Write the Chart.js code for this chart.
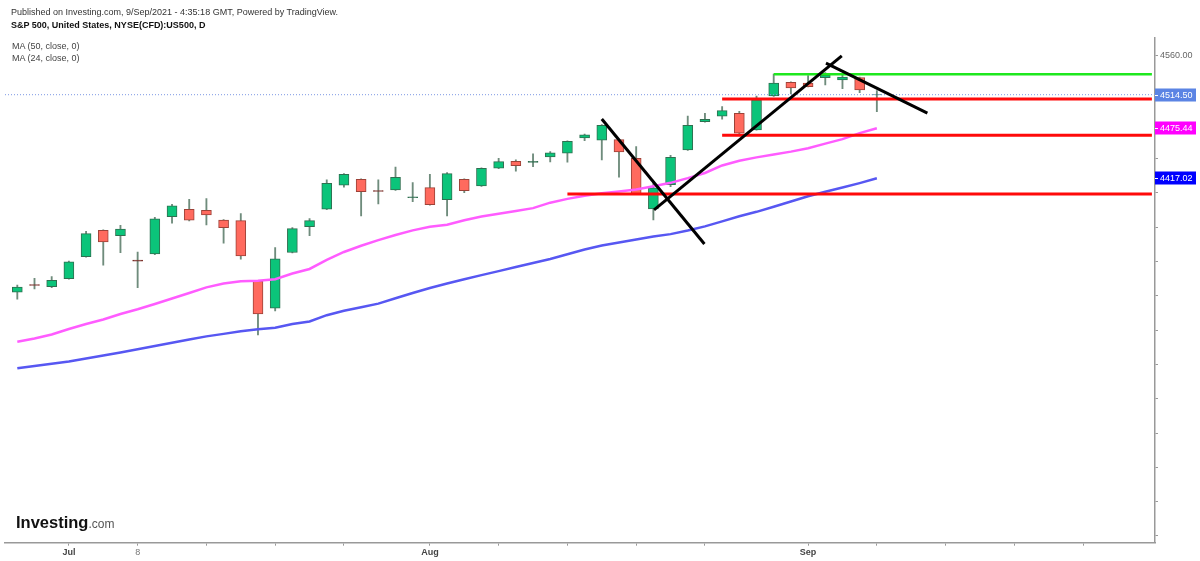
<!DOCTYPE html>
<html>
<head>
    <meta charset="UTF-8">
    <title>S&amp;P 500 Daily</title>
    <script src="https://cdn.jsdelivr.net/npm/chart.js"></script>
    <style>
        body { margin: 0; background: #fff; font-family: Arial, "Liberation Sans", sans-serif; }
        #wrap { position: relative; width: 1200px; height: 561px; overflow: hidden; }
        #chart { position: absolute; left: 0; top: 0; }
        .txt { position: absolute; left: 11px; white-space: nowrap; font-size: 9px; line-height: 10px; color: #333; }
        .title { font-weight: bold; color: #111; }
        .ma { left: 12px; color: #444; }
        .logo { position: absolute; left: 16px; top: 514px; line-height: 16px; white-space: nowrap; }
        .logo b { font-size: 16.5px; color: #111; }
        .logo span { font-size: 12px; color: #555; }
    </style>
</head>
<body>
<div id="wrap">
    <canvas id="chart" width="1200" height="561"></canvas>
    <div class="txt" style="top:7px">Published on Investing.com, 9/Sep/2021 - 4:35:18 GMT, Powered by TradingView.</div>
    <div class="txt title" style="top:20px">S&amp;P 500, United States, NYSE(CFD):US500, D</div>
    <div class="txt ma" style="top:41px">MA (50, close, 0)</div>
    <div class="txt ma" style="top:53px">MA (24, close, 0)</div>
    <div class="logo"><b>Investing</b><span>.com</span></div>
</div>
<script>
    // 日K数据（7月初 - 9月8日）
    const opens = [4284.1, 4293.2, 4290.7, 4300.0, 4325.6, 4356.4, 4350.1, 4321.6, 4328.8, 4372.3,
        4380.9, 4379.8, 4368.4, 4367.6, 4297.3, 4265.5, 4330.5, 4360.6, 4380.9, 4408.9,
        4415.9, 4402.8, 4403.4, 4394.3, 4406.1, 4392.1, 4415.9, 4408.1, 4428.7, 4436.9,
        4435.5, 4441.9, 4446.2, 4464.1, 4461.4, 4462.1, 4440.4, 4381.3, 4409.6, 4450.1,
        4483.1, 4489.4, 4492.9, 4473.4, 4513.0, 4529.0, 4527.9, 4534.4, 4531.7, 4534.4, 4514.3];
    const highs = [4292.6, 4300.4, 4302.3, 4320.6, 4355.3, 4357.0, 4362.3, 4331.1, 4371.6, 4386.7,
        4392.6, 4393.3, 4369.0, 4375.8, 4298.0, 4336.1, 4359.5, 4369.9, 4415.1, 4422.5,
        4416.5, 4415.1, 4430.2, 4411.9, 4421.7, 4423.6, 4416.5, 4429.3, 4440.4, 4438.4,
        4445.4, 4448.1, 4460.8, 4468.7, 4479.5, 4462.7, 4453.9, 4413.1, 4443.9, 4489.7,
        4492.9, 4500.6, 4495.2, 4513.0, 4538.4, 4529.5, 4536.7, 4540.2, 4538.7, 4535.0, 4519.2];
    const lows = [4276.0, 4288.0, 4289.5, 4299.5, 4325.0, 4315.6, 4330.3, 4289.5, 4328.0, 4364.6,
        4367.3, 4362.6, 4341.3, 4322.6, 4234.3, 4262.3, 4330.0, 4350.1, 4380.5, 4406.6,
        4373.1, 4387.1, 4403.0, 4389.8, 4385.6, 4373.1, 4400.3, 4407.5, 4428.2, 4425.2,
        4430.6, 4436.1, 4435.7, 4460.9, 4438.4, 4418.2, 4398.0, 4368.4, 4407.3, 4449.5,
        4482.5, 4485.9, 4469.0, 4473.0, 4512.5, 4515.4, 4523.5, 4525.9, 4521.6, 4516.9, 4494.7];
    const closes = [4290.3, 4292.0, 4298.1, 4319.5, 4352.5, 4342.8, 4357.9, 4320.4, 4369.6, 4384.8,
        4368.1, 4374.3, 4359.5, 4326.5, 4258.8, 4323.0, 4358.3, 4367.6, 4411.2, 4421.7,
        4401.4, 4401.7, 4418.2, 4395.5, 4386.3, 4422.4, 4402.6, 4428.7, 4436.4, 4431.8,
        4436.7, 4446.6, 4460.2, 4467.6, 4478.9, 4447.7, 4398.8, 4405.8, 4441.6, 4478.9,
        4485.9, 4495.9, 4469.5, 4508.4, 4527.9, 4522.4, 4523.9, 4537.5, 4534.9, 4520.0, 4514.5];

    // 均线 MA24 / MA50
    const ma24 = [4226.5, 4230.2, 4234.9, 4241.3, 4247.1, 4252.4, 4258.8, 4264.3, 4270.5, 4276.9,
        4283.3, 4289.8, 4294.4, 4296.9, 4297.5, 4299.4, 4306.0, 4311.3, 4321.8, 4331.1,
        4338.4, 4344.9, 4350.9, 4356.3, 4360.6, 4362.8, 4368.0, 4372.5, 4375.7, 4378.9,
        4382.2, 4388.6, 4393.0, 4396.7, 4399.7, 4401.7, 4403.9, 4407.7, 4411.7, 4417.2,
        4423.2, 4432.0, 4437.5, 4441.4, 4444.7, 4448.1, 4452.1, 4457.4, 4462.7, 4469.7, 4475.44];
    const ma50 = [4195.4, 4198.2, 4200.7, 4203.5, 4207.0, 4210.5, 4214.0, 4217.6, 4221.5, 4225.2,
        4229.1, 4232.7, 4235.6, 4238.6, 4241.0, 4242.8, 4247.0, 4250.1, 4257.4, 4262.5,
        4266.7, 4270.9, 4277.1, 4283.3, 4289.1, 4294.4, 4299.3, 4304.1, 4308.8, 4313.6,
        4318.3, 4323.0, 4328.4, 4333.9, 4338.6, 4342.1, 4345.7, 4349.2, 4351.9, 4356.1,
        4360.9, 4366.8, 4372.8, 4377.9, 4383.9, 4390.0, 4396.1, 4401.4, 4406.2, 4411.4, 4417.02];

    // x 轴刻度（K线序号）和文字
    const tickIndex = [3, 7, 11, 15, 19, 24, 28, 32, 36, 40, 46, 50, 54, 58, 62];
    const tickText = ['Jul', '8', '', '', '', 'Aug', '', '', '', '', 'Sep', '', '', '', ''];
    // y 轴刻度
    const priceTicks = [4000, 4040, 4080, 4120, 4160, 4200, 4240, 4280, 4320, 4360, 4400, 4440, 4480, 4520, 4560];

    // 水平支撑/阻力线
    const levelPrice = [4538.3, 4509.5, 4467.2, 4398.7];
    const levelStart = [44.0, 41.0, 41.0, 32.0];
    const levelEnd = [66.0, 66.0, 66.0, 66.0];
    // 趋势线 [序号, 价格]
    const trendFrom = [[34.0, 4486.2], [37.04, 4380.1], [47.04, 4551.2]];
    const trendTo = [[39.97, 4340.4], [47.96, 4559.7], [52.94, 4492.9]];

    // 右侧价格标签
    const lastPrice = 4514.50;
    const tagValues = [4514.50, 4475.44, 4417.02];

    const xMin = -0.716, xMax = 66.18;
    const yMin = 3992.1, yMax = 4580.6;

    const idx = closes.map((c, i) => i);
    const up = idx.map(i => closes[i] >= opens[i]);
    // 十字星（实体很小）用深色
    const doji = idx.map(i => Math.abs(closes[i] - opens[i]) < 1.5);

    const datasets = [];

    // 上下影线
    datasets.push({
        type: 'bar',
        data: idx.map(i => ({x: i, y: [lows[i], highs[i]]})),
        backgroundColor: '#6f8c7c',
        borderWidth: 0,
        barThickness: 1.2,
        grouped: false,
        order: 6
    });
    // 实体
    datasets.push({
        type: 'bar',
        data: idx.map(i => ({x: i, y: [opens[i], closes[i]]})),
        backgroundColor: idx.map(i => doji[i] ? (up[i] ? '#2f6f50' : '#7a2f28') : (up[i] ? '#0bc47a' : '#ff6a5e')),
        borderColor: idx.map(i => up[i] ? '#2f6f50' : (doji[i] ? '#7a2f28' : '#9c4238')),
        borderWidth: 1,
        borderSkipped: false,
        barThickness: 10,
        grouped: false,
        order: 5
    });
    // 均线
    datasets.push({
        type: 'line',
        data: ma50.map((v, i) => ({x: i, y: v})),
        borderColor: '#5757f2',
        borderWidth: 2.5,
        pointRadius: 0,
        order: 4
    });
    datasets.push({
        type: 'line',
        data: ma24.map((v, i) => ({x: i, y: v})),
        borderColor: '#ff5cff',
        borderWidth: 2.5,
        pointRadius: 0,
        order: 4
    });
    // 最新价虚线
    datasets.push({
        type: 'line',
        data: [{x: xMin, y: lastPrice}, {x: xMax, y: lastPrice}],
        borderColor: '#7d98e4',
        borderWidth: 1,
        borderDash: [1, 2],
        pointRadius: 0,
        order: 3
    });
    // 水平线
    levelPrice.forEach((p, k) => {
        datasets.push({
            type: 'line',
            data: [{x: levelStart[k], y: p}, {x: levelEnd[k], y: p}],
            borderColor: k === 0 ? '#1ee81e' : '#ff0a0a',
            borderWidth: k === 0 ? 2.5 : 3,
            pointRadius: 0,
            order: 2
        });
    });
    // 趋势线
    trendFrom.forEach((a, k) => {
        datasets.push({
            type: 'line',
            data: [{x: a[0], y: a[1]}, {x: trendTo[k][0], y: trendTo[k][1]}],
            borderColor: '#000',
            borderWidth: 3,
            pointRadius: 0,
            order: 1
        });
    });

    const tagColors = ['#5b84e4', '#ff00ff', '#0000ff'];
    const priceTags = {
        id: 'priceTags',
        afterDraw(chart) {
            const ctx = chart.ctx;
            const yScale = chart.scales.y;
            const right = chart.chartArea.right;
            ctx.save();
            tagValues.forEach((v, k) => {
                const py = Math.round(yScale.getPixelForValue(v));
                ctx.fillStyle = tagColors[k];
                ctx.fillRect(right, py - 6.5, 41, 13);
                ctx.strokeStyle = '#fff';
                ctx.lineWidth = 1;
                ctx.beginPath();
                ctx.moveTo(right, py + 0.5);
                ctx.lineTo(right + 3, py + 0.5);
                ctx.stroke();
                ctx.fillStyle = '#fff';
                ctx.font = '9px Arial, "Liberation Sans", sans-serif';
                ctx.textBaseline = 'middle';
                ctx.fillText(v.toFixed(2), right + 5, py + 0.5);
            });
            ctx.restore();
        }
    };

    new Chart(document.getElementById('chart'), {
        type: 'bar',
        data: {datasets: datasets},
        plugins: [priceTags],
        options: {
            responsive: false,
            animation: false,
            layout: {padding: {top: 38, left: 5, right: 0, bottom: 0}},
            plugins: {
                legend: {display: false},
                tooltip: {enabled: false}
            },
            scales: {
                x: {
                    type: 'linear',
                    min: xMin,
                    max: xMax,
                    offset: false,
                    grid: {offset: false, drawOnChartArea: false, tickLength: 3, color: '#999'},
                    border: {color: '#999', width: 1.5},
                    afterBuildTicks: axis => { axis.ticks = tickIndex.map(v => ({value: v})); },
                    afterFit: axis => { axis.height = 18.3; },
                    ticks: {
                        autoSkip: false,
                        maxRotation: 0,
                        padding: 1,
                        color: ctx => (tickText[ctx.index] === '8' ? '#777' : '#444'),
                        font: ctx => ({size: 9, weight: tickText[ctx.index] === '8' ? 'normal' : 'bold', family: 'Arial, "Liberation Sans", sans-serif'}),
                        callback: (v, i) => tickText[i]
                    }
                },
                y: {
                    type: 'linear',
                    position: 'right',
                    min: yMin,
                    max: yMax,
                    beginAtZero: false,
                    grid: {drawOnChartArea: false, tickLength: 3, color: '#999'},
                    border: {color: '#999', width: 1.5},
                    afterBuildTicks: axis => { axis.ticks = priceTicks.map(v => ({value: v})); },
                    afterFit: axis => { axis.width = 45; },
                    ticks: {
                        padding: 2,
                        color: '#666',
                        font: {size: 9, family: 'Arial, "Liberation Sans", sans-serif'},
                        callback: v => (v === 4560 ? '4560.00' : '')
                    }
                }
            }
        }
    });
</script>
</body>
</html>
